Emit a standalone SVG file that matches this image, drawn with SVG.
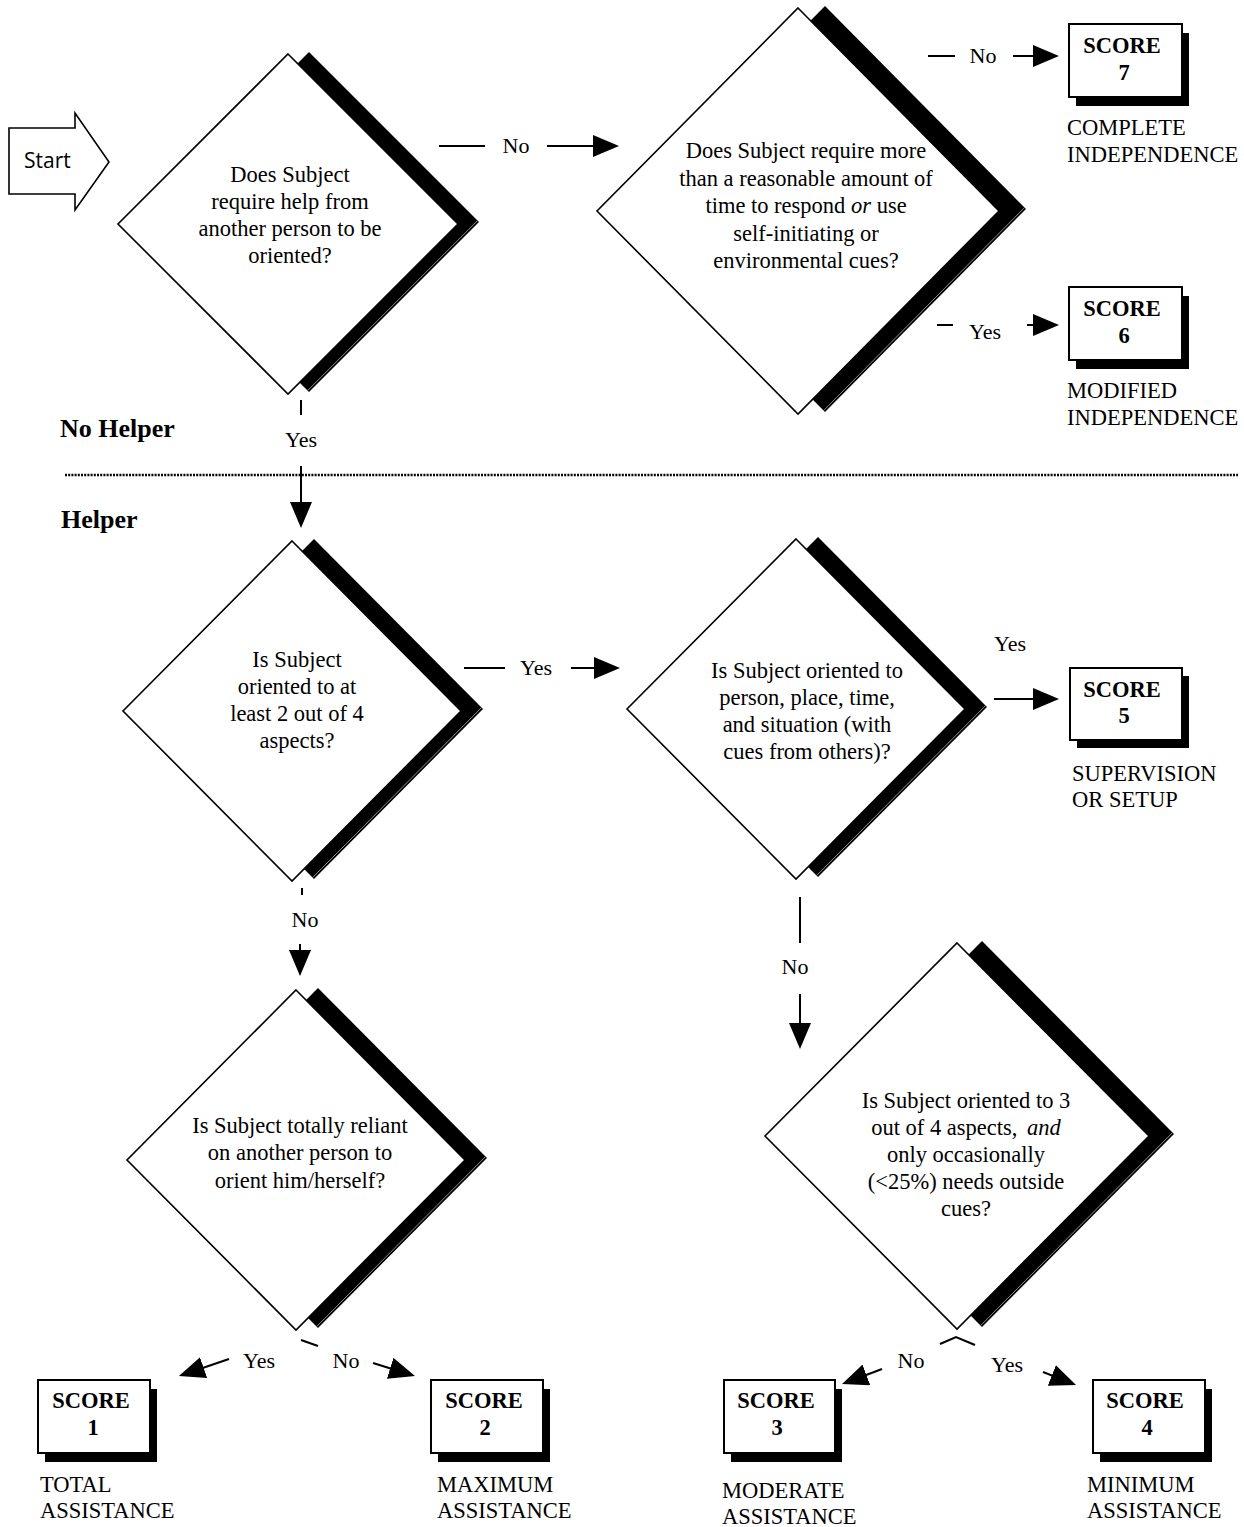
<svg xmlns="http://www.w3.org/2000/svg" width="1244" height="1527" viewBox="0 0 1244 1527">
<style>
text{font-family:"Liberation Serif","Times New Roman",serif;font-size:22.5px;fill:#000}
.q{text-anchor:middle}
.b{font-weight:bold}
.h{font-weight:bold;font-size:26px}
.lbl{font-size:22px;text-anchor:middle}
.dia{fill:#fff;stroke:#000;stroke-width:1.6}
.sh{fill:#000;stroke:none}
.shl{stroke:#b0b0b0;stroke-width:0.8;fill:none}
.box{fill:#fff;stroke:#000;stroke-width:2}
.c{stroke:#000;stroke-width:2;fill:none}
.a{stroke:#000;stroke-width:2;fill:none;marker-end:url(#ah)}
.num{text-anchor:middle;font-weight:bold}
</style>
<defs>
<marker id="ah" markerUnits="userSpaceOnUse" markerWidth="26" markerHeight="22" viewBox="0 0 26 22" refX="8" refY="11" orient="auto">
<path d="M0,0 L26,11 L0,22 Z" fill="#000"/>
</marker>
</defs>
<rect width="1244" height="1527" fill="#fff"/>

<g id="start">
<polygon points="9,128 75,128 75,113 109,162 75,210 75,194 9,194" fill="#fff" stroke="#000" stroke-width="1.6"/>
<text x="24" y="168" style="font-family:'Open Sans','Noto Sans',sans-serif;font-size:21px">Start</text>
</g>

<g id="section-labels">
<text class="h" x="60" y="437">No Helper</text>
<line x1="65" y1="475" x2="1238" y2="475" stroke="#000" stroke-width="2.5" stroke-dasharray="2 1.2"/>
<text class="h" x="61" y="528">Helper</text>
</g>

<g id="d1">
<polygon class="sh" points="309,52 479,222 309,392 139,222"/>
<line class="shl" x1="477.5" y1="220.6" x2="307.6" y2="390.6"/>
<polygon class="dia" points="288,54 458,224 288,394 118,224"/>
<text class="q" x="290"><tspan x="290" y="182">Does Subject</tspan><tspan x="290" y="209">require help from</tspan><tspan x="290" y="236">another person to be</tspan><tspan x="290" y="263">oriented?</tspan></text>
</g>

<g id="d2">
<polygon class="sh" points="825,6 1026,209 825,412 624,209"/>
<line class="shl" x1="1024.5" y1="207.6" x2="823.6" y2="410.6"/>
<polygon class="dia" points="798,8 999,211 798,414 597,211"/>
<text class="q" x="806"><tspan x="806" y="158">Does Subject require more</tspan><tspan x="806" y="186">than a reasonable amount of</tspan><tspan x="806" y="213">time to respond <tspan font-style="italic">or</tspan> use</tspan><tspan x="806" y="241">self-initiating or</tspan><tspan x="806" y="268">environmental cues?</tspan></text>
</g>

<g id="d3">
<polygon class="sh" points="314,539 483,709 314,879 145,709"/>
<line class="shl" x1="481.5" y1="707.6" x2="312.6" y2="877.6"/>
<polygon class="dia" points="292,541 461,711 292,881 123,711"/>
<text class="q" x="297"><tspan x="297" y="667">Is Subject</tspan><tspan x="297" y="694">oriented to at</tspan><tspan x="297" y="721">least 2 out of 4</tspan><tspan x="297" y="748">aspects?</tspan></text>
</g>

<g id="d4">
<polygon class="sh" points="818,537 987,707 818,877 649,707"/>
<line class="shl" x1="985.5" y1="705.6" x2="816.6" y2="875.6"/>
<polygon class="dia" points="796,539 965,709 796,879 627,709"/>
<text class="q" x="807"><tspan x="807" y="678">Is Subject oriented to</tspan><tspan x="807" y="705">person, place, time,</tspan><tspan x="807" y="732">and situation (with</tspan><tspan x="807" y="759">cues from others)?</tspan></text>
</g>

<g id="d5">
<polygon class="sh" points="318,988 487,1158 318,1328 149,1158"/>
<line class="shl" x1="485.5" y1="1156.6" x2="316.6" y2="1326.6"/>
<polygon class="dia" points="296,990 465,1160 296,1330 127,1160"/>
<text class="q" x="300"><tspan x="300" y="1133">Is Subject totally reliant</tspan><tspan x="300" y="1160">on another person to</tspan><tspan x="300" y="1188">orient him/herself?</tspan></text>
</g>

<g id="d6">
<polygon class="sh" points="982,941 1174,1134 982,1327 790,1134"/>
<line class="shl" x1="1172.5" y1="1132.6" x2="980.6" y2="1325.6"/>
<polygon class="dia" points="957,943 1149,1136 957,1329 765,1136"/>
<text class="q" x="966"><tspan x="966" y="1108">Is Subject oriented to 3</tspan><tspan x="966" y="1135">out of 4 aspects, <tspan font-style="italic" dx="4">and</tspan></tspan><tspan x="966" y="1162">only occasionally</tspan><tspan x="966" y="1189">(&lt;25%) needs outside</tspan><tspan x="966" y="1216">cues?</tspan></text>
</g>

<g id="s7">
<rect class="sh" x="1076" y="33" width="113" height="73"/>
<rect class="box" x="1069" y="24" width="113" height="73"/>
<text class="num" x="1122" y="53">SCORE</text>
<text class="num" x="1124" y="80">7</text>
<text x="1067" y="135">COMPLETE</text>
<text x="1067" y="162">INDEPENDENCE</text>
</g>

<g id="s6">
<rect class="sh" x="1076" y="296" width="113" height="73"/>
<rect class="box" x="1069" y="287" width="113" height="73"/>
<text class="num" x="1122" y="316">SCORE</text>
<text class="num" x="1124" y="343">6</text>
<text x="1067" y="398">MODIFIED</text>
<text x="1067" y="425">INDEPENDENCE</text>
</g>

<g id="s5">
<rect class="sh" x="1077" y="676" width="112" height="72"/>
<rect class="box" x="1070" y="668" width="112" height="72"/>
<text class="num" x="1122" y="697">SCORE</text>
<text class="num" x="1124" y="723">5</text>
<text x="1072" y="781">SUPERVISION</text>
<text x="1072" y="807">OR SETUP</text>
</g>

<g id="s1">
<rect class="sh" x="45" y="1389" width="112" height="73"/>
<rect class="box" x="38" y="1380" width="112" height="73"/>
<text class="num" x="91" y="1408">SCORE</text>
<text class="num" x="93" y="1435">1</text>
<text x="40" y="1492">TOTAL</text>
<text x="40" y="1518">ASSISTANCE</text>
</g>

<g id="s2">
<rect class="sh" x="438" y="1389" width="112" height="73"/>
<rect class="box" x="431" y="1380" width="112" height="73"/>
<text class="num" x="484" y="1408">SCORE</text>
<text class="num" x="485" y="1435">2</text>
<text x="437" y="1492">MAXIMUM</text>
<text x="437" y="1518">ASSISTANCE</text>
</g>

<g id="s3">
<rect class="sh" x="731" y="1389" width="111" height="73"/>
<rect class="box" x="724" y="1380" width="111" height="73"/>
<text class="num" x="776" y="1408">SCORE</text>
<text class="num" x="777" y="1435">3</text>
<text x="722" y="1498">MODERATE</text>
<text x="722" y="1524">ASSISTANCE</text>
</g>

<g id="s4">
<rect class="sh" x="1100" y="1389" width="112" height="73"/>
<rect class="box" x="1093" y="1380" width="112" height="73"/>
<text class="num" x="1145" y="1408">SCORE</text>
<text class="num" x="1147" y="1435">4</text>
<text x="1087" y="1492">MINIMUM</text>
<text x="1087" y="1518">ASSISTANCE</text>
</g>

<g id="connectors">
<line class="c" x1="439" y1="146" x2="485" y2="146"/>
<text class="lbl" x="516" y="153">No</text>
<line class="a" x1="547" y1="146" x2="601" y2="146"/>

<line class="c" x1="928" y1="56" x2="955" y2="56"/>
<text class="lbl" x="983" y="63">No</text>
<line class="a" x1="1013" y1="56" x2="1041" y2="56"/>

<line class="c" x1="937" y1="325" x2="953" y2="325"/>
<text class="lbl" x="985" y="339">Yes</text>
<line class="a" x1="1027" y1="325" x2="1041" y2="325"/>

<line class="c" x1="301" y1="400" x2="301" y2="415"/>
<text class="lbl" x="301" y="447">Yes</text>
<line class="a" x1="301" y1="466" x2="301" y2="510"/>

<line class="c" x1="464" y1="668" x2="505" y2="668"/>
<text class="lbl" x="536" y="675">Yes</text>
<line class="a" x1="571" y1="668" x2="602" y2="668"/>

<text class="lbl" x="1010" y="651">Yes</text>
<line class="a" x1="994" y1="699" x2="1041" y2="699"/>

<line class="c" x1="800" y1="897" x2="800" y2="943"/>
<text class="lbl" x="795" y="974">No</text>
<line class="a" x1="800" y1="994" x2="800" y2="1031"/>

<line class="c" x1="302" y1="888" x2="302" y2="895"/>
<text class="lbl" x="305" y="927">No</text>
<line class="a" x1="300" y1="944" x2="300" y2="958"/>

<line class="c" x1="301" y1="1340" x2="318" y2="1346"/>
<text class="lbl" x="259" y="1368">Yes</text>
<line class="a" x1="229" y1="1359" x2="196" y2="1370.2"/>
<text class="lbl" x="346" y="1368">No</text>
<line class="a" x1="373" y1="1363" x2="397.8" y2="1370.7"/>

<polyline class="c" points="940,1344 956,1337 975,1345"/>
<text class="lbl" x="911" y="1368">No</text>
<line class="a" x1="882" y1="1369" x2="858.9" y2="1377.7"/>
<text class="lbl" x="1007" y="1372">Yes</text>
<line class="a" x1="1043" y1="1372" x2="1059.3" y2="1378.4"/>
</g>
</svg>
